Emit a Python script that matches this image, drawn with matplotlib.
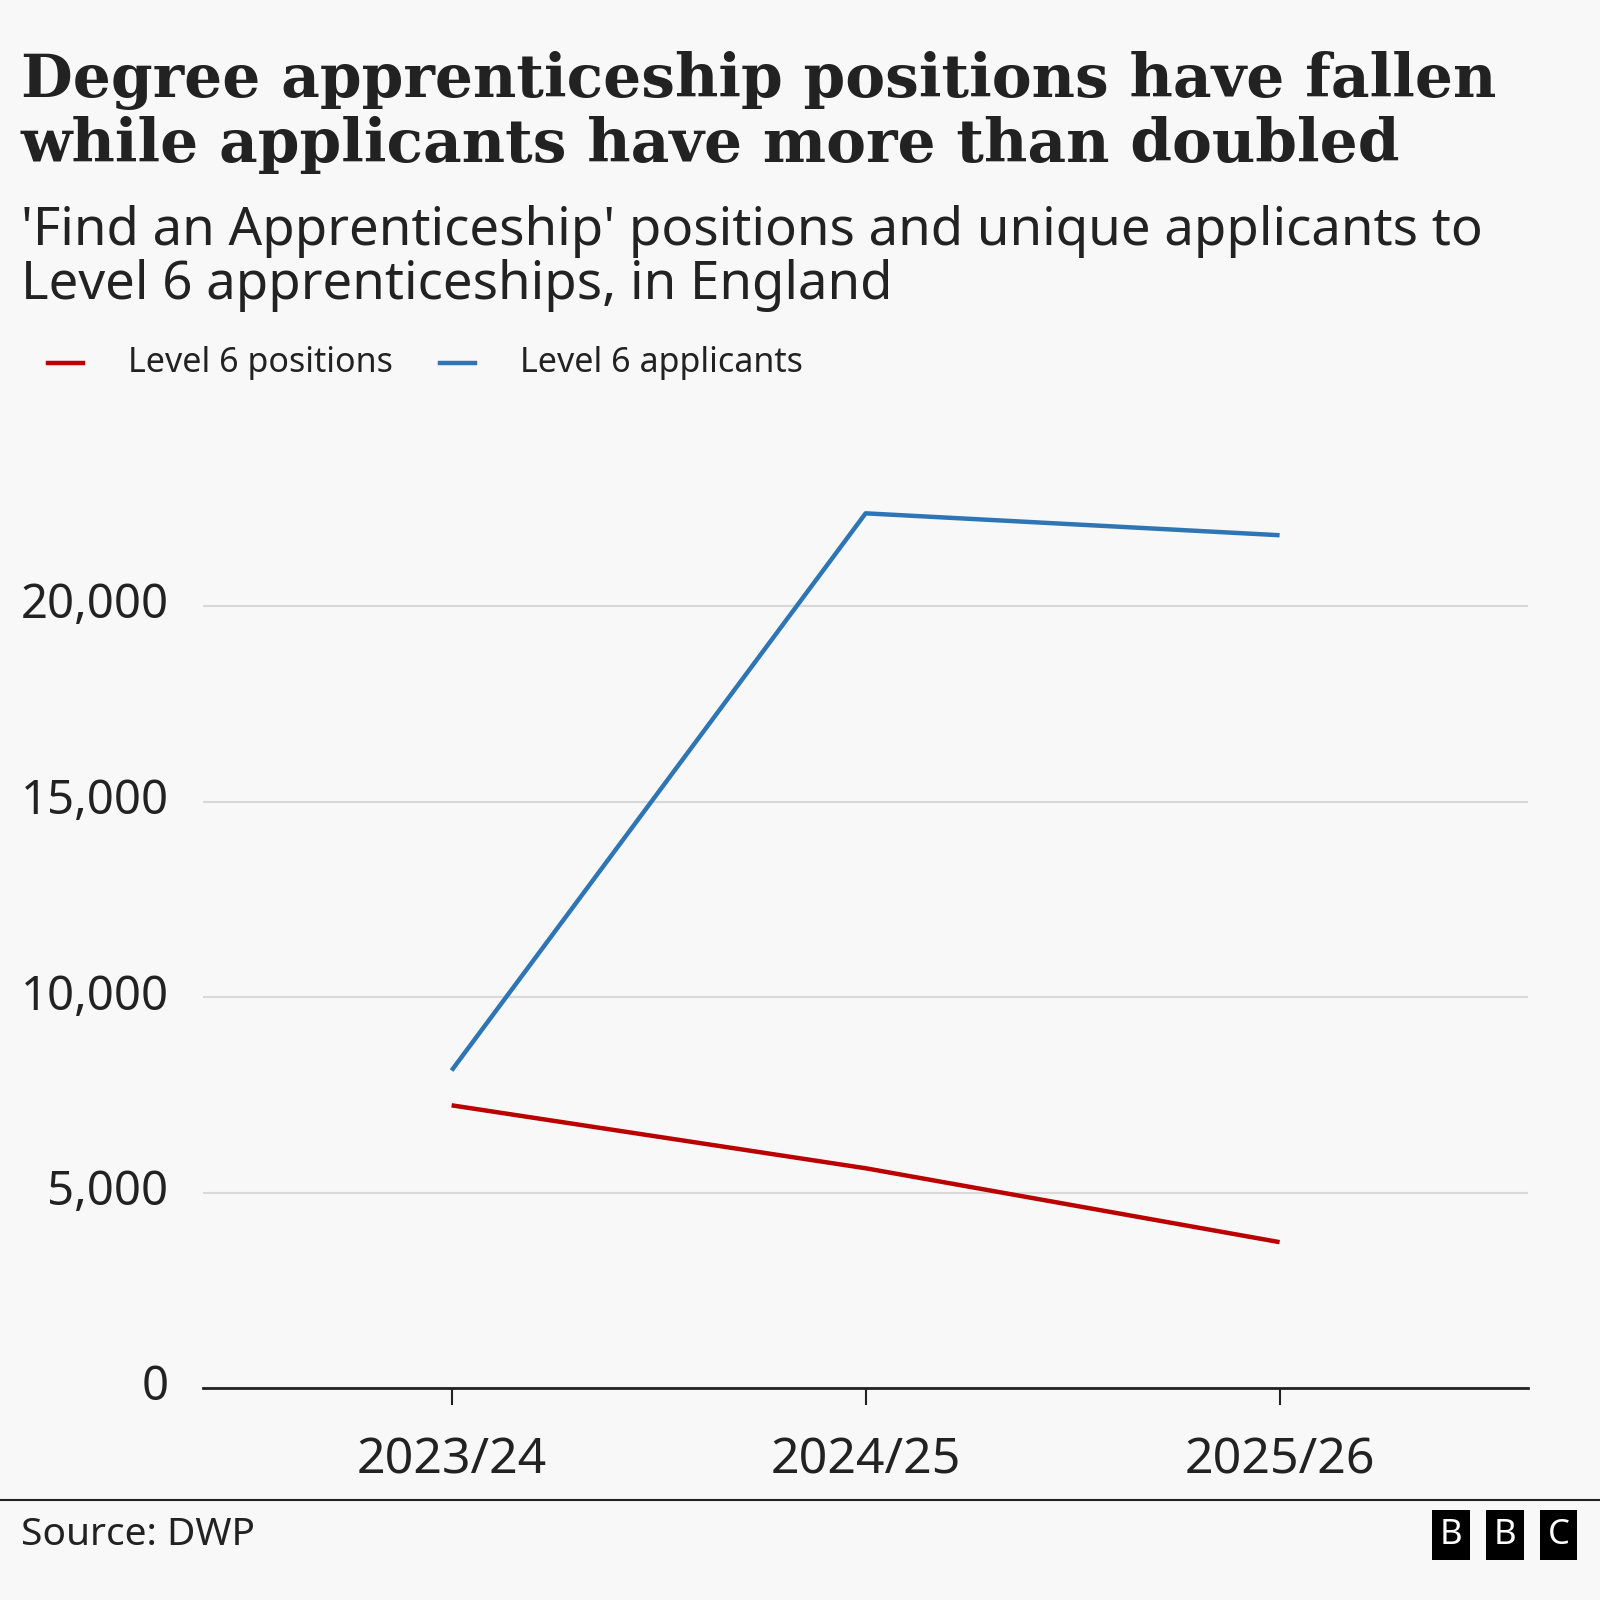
import matplotlib.pyplot as plt
from matplotlib.ticker import FuncFormatter

years = ["2023/24", "2024/25", "2025/26"]
positions = [7230, 5620, 3730]
applicants = [8120, 22370, 21810]

RED = "#bb0000"
BLUE = "#2e75b6"
BG = "#f8f8f8"
TXT = "#222222"

plt.rcParams["font.family"] = ["Noto Sans", "DejaVu Sans"]

fig = plt.figure(figsize=(16, 16), dpi=100, facecolor=BG)
ax = fig.add_axes([0.127, 0.1325, 0.828, 0.5865], facecolor=BG)

x = range(len(years))
ax.plot(x, positions, color=RED, lw=3.2, solid_capstyle="butt")
ax.plot(x, applicants, color=BLUE, lw=3.2, solid_capstyle="butt")

ax.set_xlim(-0.6, 2.6)
ax.set_ylim(0, 24000)
ax.set_yticks([0, 5000, 10000, 15000, 20000])
ax.yaxis.set_major_formatter(FuncFormatter(lambda v, p: f"{int(v):,}"))
ax.set_xticks(list(x))
ax.set_xticklabels(years)
ax.grid(axis="y", color="#d9d9d9", lw=1.5)
ax.set_axisbelow(True)
for s in ["top", "right", "left"]:
    ax.spines[s].set_visible(False)
ax.spines["bottom"].set_color(TXT)
ax.spines["bottom"].set_linewidth(2)
ax.tick_params(axis="y", length=0, labelsize=34, labelcolor=TXT, pad=25)
ax.tick_params(axis="x", length=12, width=1.5, color=TXT, labelsize=36,
               labelcolor=TXT, pad=22)
for lab in ax.get_yticklabels():
    lab.set_verticalalignment("center")

fig.text(0.013, 0.968, "Degree apprenticeship positions have fallen\nwhile applicants have more than doubled",
         fontsize=43, fontweight="bold", family="DejaVu Serif", color=TXT,
         va="top", linespacing=1.12)
fig.text(0.013, 0.872, "'Find an Apprenticeship' positions and unique applicants to\nLevel 6 apprenticeships, in England",
         fontsize=38, color=TXT, va="top", linespacing=1.02)

# legend
ly = 1 - 363 / 1600
for x0, lab, c in [(0.03, "Level 6 positions", RED), (0.275, "Level 6 applicants", BLUE)]:
    fig.add_artist(plt.Line2D([x0, x0 + 0.022], [ly, ly], color=c, lw=3.2,
                              transform=fig.transFigure))
    fig.text(x0 + 0.05, ly, lab, fontsize=24.5, color=TXT, va="center")

fig.add_artist(plt.Line2D([0, 1], [1 - 1500 / 1600] * 2, color=TXT, lw=1.5,
                          transform=fig.transFigure))
fig.text(0.013, 1 - 1535 / 1600, "Source: DWP", fontsize=28, color=TXT, va="center")
for i, ch in enumerate("BBC"):
    fig.text(0.907 + i * 0.0335, 1 - 1535 / 1600, ch, fontsize=25, fontweight="bold",
             color="white", va="center", ha="center",
             bbox=dict(boxstyle="square,pad=0.22", fc="black", ec="none"))

fig.savefig("out.png", dpi=100, facecolor=BG)
